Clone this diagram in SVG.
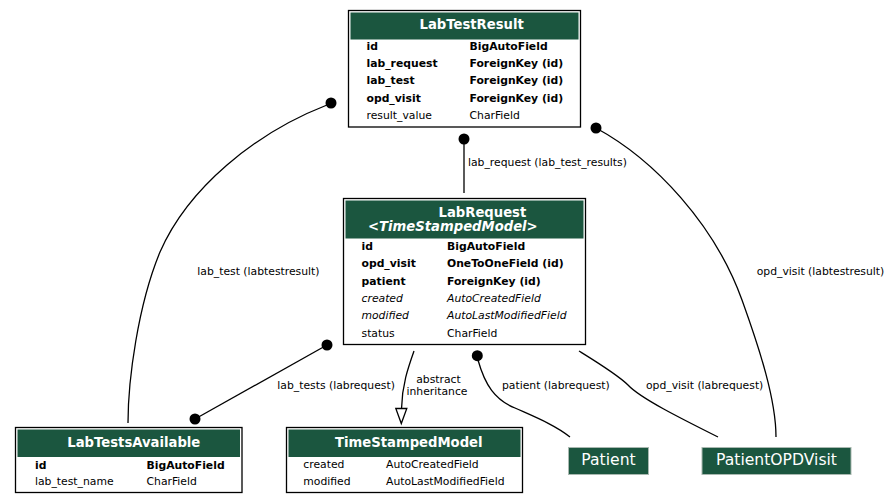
<svg xmlns="http://www.w3.org/2000/svg" width="891" height="504" viewBox="0 0 891 504">
<style>
text{font-family:"DejaVu Sans","Liberation Sans",sans-serif;fill:#000}
.box{fill:#fff;stroke:#000;stroke-width:1.3}
.hdr{fill:#1b563f}
.title{font-size:13.2px;font-weight:bold;fill:#fff}
.f{font-size:10.8px}
.b{font-weight:bold}
.i{font-style:italic}
.ext{fill:#1b563f;stroke:#a9b8b0;stroke-width:1}
.extt{font-size:15.6px;fill:#fff;text-anchor:middle}
.edge{fill:none;stroke:#000;stroke-width:1.3}
.dot{fill:#000}
.lbl{font-size:10.8px}
</style>
<rect width="891" height="504" fill="#fff"/>
<g id="connectors">
  <path class="edge" d="M327,105 C255,133 188,188 160,252 C138,305 128,380 128,423"/>
  <circle class="dot" cx="331" cy="103" r="5.5"/>
  <text class="lbl" x="197.3" y="274.5">lab_test (labtestresult)</text>

  <path class="edge" d="M464,139 L464,193"/>
  <circle class="dot" cx="464" cy="139" r="5.5"/>
  <text class="lbl" x="468" y="166">lab_request (lab_test_results)</text>

  <path class="edge" d="M596,128 C655,160 715,225 742,300 C760,350 776,400 776,437"/>
  <circle class="dot" cx="596" cy="128" r="5.5"/>
  <text class="lbl" x="756.7" y="275">opd_visit (labtestresult)</text>

  <path class="edge" d="M327,345 L195,419"/>
  <circle class="dot" cx="327" cy="345" r="5.5"/>
  <circle class="dot" cx="195" cy="419" r="5.5"/>
  <text class="lbl" x="277.3" y="388.5">lab_tests (labrequest)</text>

  <path class="edge" d="M414,351 C408,368 402,385 401.5,409"/>
  <polygon points="395.8,408.5 406.8,408.5 401.3,423.5" fill="#fff" stroke="#000" stroke-width="1.3"/>
  <text class="lbl" x="438.5" y="383" text-anchor="middle">abstract</text>
  <text class="lbl" x="437" y="395" text-anchor="middle">inheritance</text>

  <path class="edge" d="M478,360 C485,385 495,400 515,408 C535,417 555,425 570,437"/>
  <circle class="dot" cx="477.3" cy="355.7" r="5.5"/>
  <text class="lbl" x="502" y="388.5">patient (labrequest)</text>

  <path class="edge" d="M579,351 C600,364 618,375 628,385 C640,398 680,418 718,437"/>
  <text class="lbl" x="646" y="388.5">opd_visit (labrequest)</text>
</g>

<g id="LabTestResult">
  <rect class="box" x="348.5" y="10.5" width="232" height="116.5"/>
  <rect class="hdr" x="350.5" y="12.5" width="228" height="27"/>
  <text class="title" x="419.5" y="28.5">LabTestResult</text>
  <text class="f b" x="366.5" y="49.8">id</text>
  <text class="f b" x="469.5" y="49.8">BigAutoField</text>
  <text class="f b" x="366.5" y="67">lab_request</text>
  <text class="f b" x="469.5" y="67">ForeignKey (id)</text>
  <text class="f b" x="366.5" y="84.3">lab_test</text>
  <text class="f b" x="469.5" y="84.3">ForeignKey (id)</text>
  <text class="f b" x="366.5" y="101.5">opd_visit</text>
  <text class="f b" x="469.5" y="101.5">ForeignKey (id)</text>
  <text class="f" x="366.5" y="118.8">result_value</text>
  <text class="f" x="469.5" y="118.8">CharField</text>
</g>

<g id="LabRequest">
  <rect class="box" x="343.5" y="198.5" width="242" height="146"/>
  <rect class="hdr" x="345.5" y="200.5" width="238" height="38"/>
  <text class="title" x="438.5" y="217">LabRequest</text>
  <text class="title i" x="368" y="230.5">&lt;TimeStampedModel&gt;</text>
  <text class="f b" x="361.5" y="250">id</text>
  <text class="f b" x="447" y="250">BigAutoField</text>
  <text class="f b" x="361.5" y="267.3">opd_visit</text>
  <text class="f b" x="447" y="267.3">OneToOneField (id)</text>
  <text class="f b" x="361.5" y="284.5">patient</text>
  <text class="f b" x="447" y="284.5">ForeignKey (id)</text>
  <text class="f i" x="361.5" y="301.8">created</text>
  <text class="f i" x="447" y="301.8">AutoCreatedField</text>
  <text class="f i" x="361.5" y="319">modified</text>
  <text class="f i" x="447" y="319">AutoLastModifiedField</text>
  <text class="f" x="361.5" y="336.5">status</text>
  <text class="f" x="447" y="336.5">CharField</text>
</g>

<g id="LabTestsAvailable">
  <rect class="box" x="15.5" y="427.5" width="226.5" height="65"/>
  <rect class="hdr" x="17.5" y="429.5" width="222.5" height="27.5"/>
  <text class="title" x="67.3" y="446.7">LabTestsAvailable</text>
  <text class="f b" x="35" y="468.5">id</text>
  <text class="f b" x="146.5" y="468.5">BigAutoField</text>
  <text class="f" x="35" y="485.3">lab_test_name</text>
  <text class="f" x="146.5" y="485.3">CharField</text>
</g>

<g id="TimeStampedModel">
  <rect class="box" x="286.5" y="427.5" width="236" height="65"/>
  <rect class="hdr" x="288.5" y="429.5" width="232" height="27.5"/>
  <text class="title" x="335" y="446.7">TimeStampedModel</text>
  <text class="f" x="303.3" y="468.3">created</text>
  <text class="f" x="386" y="468.3">AutoCreatedField</text>
  <text class="f" x="303.3" y="485.3">modified</text>
  <text class="f" x="386" y="485.3">AutoLastModifiedField</text>
</g>

<g id="Patient">
  <rect class="ext" x="568.5" y="447.5" width="80" height="27"/>
  <text class="extt" x="608.5" y="464.5">Patient</text>
</g>

<g id="PatientOPDVisit">
  <rect class="ext" x="702" y="447.5" width="149" height="27"/>
  <text class="extt" x="776.5" y="464.5">PatientOPDVisit</text>
</g>
</svg>
